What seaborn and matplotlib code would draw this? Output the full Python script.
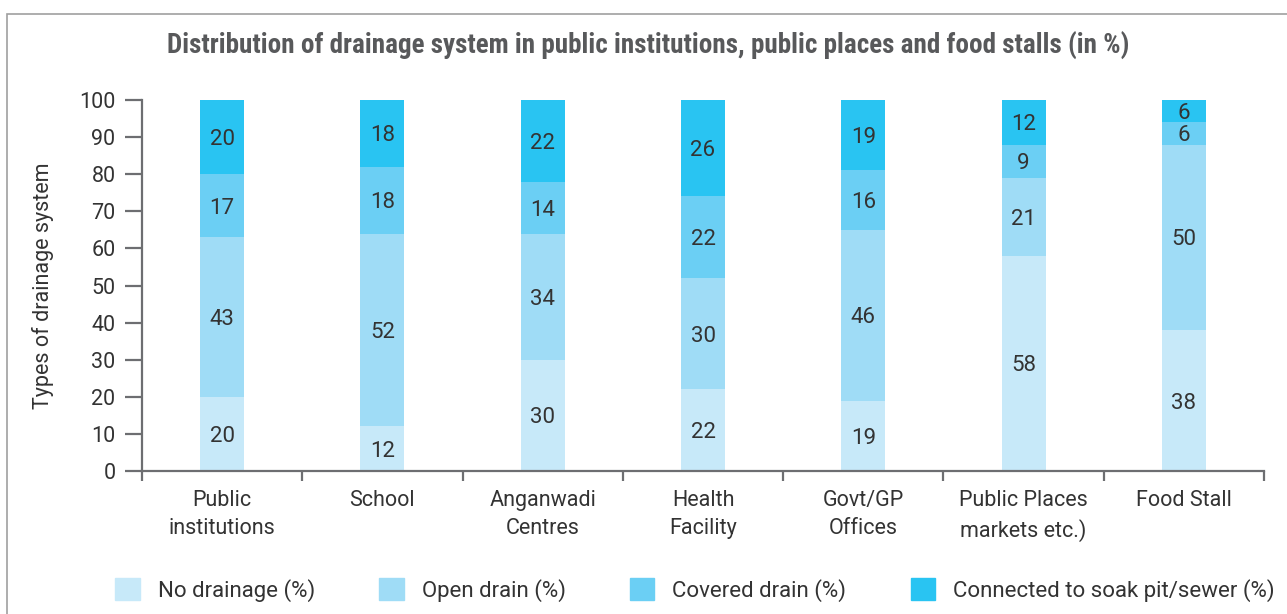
import matplotlib
matplotlib.use("Agg")
import matplotlib.pyplot as plt
import matplotlib.patches as mpatches
import numpy as np
import seaborn as sns

categories = ["Public\ninstitutions", "School", "Anganwadi\nCentres", "Health\nFacility",
              "Govt/GP\nOffices", "Public Places\nmarkets etc.)", "Food Stall"]
no_drainage = [20, 12, 30, 22, 19, 58, 38]
open_drain = [43, 52, 34, 30, 46, 21, 50]
covered_drain = [17, 18, 14, 22, 16, 9, 6]
connected = [20, 18, 22, 26, 19, 12, 6]

series_names = ["No drainage (%)", "Open drain (%)", "Covered drain (%)",
                "Connected to soak pit/sewer (%)"]
colors = ["#c7e9f9", "#9fdcf6", "#6bcff4", "#29c4f2"]

sns.set_style("white")
plt.rcParams["font.family"] = ["Roboto", "DejaVu Sans"]
text_col = "#333333"
axis_col = "#6d6e71"

fig = plt.figure(figsize=(12.87, 6.14), dpi=100)
ax = fig.add_axes([142 / 1287, 1 - 471 / 614, (1264 - 142) / 1287, (471 - 100) / 614])

series = [no_drainage, open_drain, covered_drain, connected]
cum = np.cumsum(np.array(series), axis=0)

# draw cumulative totals from the top down so each layer shows as a stacked segment
for i in range(len(series) - 1, -1, -1):
    sns.barplot(x=categories, y=cum[i], color=colors[i], width=0.275,
                saturation=1, ax=ax, linewidth=0)

for i, vals in enumerate(series):
    base = cum[i] - np.array(vals)
    for j, v in enumerate(vals):
        ax.text(j, base[j] + v / 2, str(v), ha="center", va="center_baseline",
                fontsize=16, color=text_col)

ax.set_xlim(-0.5, 6.5)
ax.set_ylim(0, 100)
ax.set_yticks(range(0, 101, 10))
ax.set_ylabel("Types of drainage system", fontsize=15.5, color=text_col, labelpad=18)
ax.set_xlabel("")
for s in ["top", "right"]:
    ax.spines[s].set_visible(False)
for s in ["left", "bottom"]:
    ax.spines[s].set_color(axis_col)
    ax.spines[s].set_linewidth(1.6)

ax.tick_params(axis="y", length=12, width=1.6, color=axis_col, labelsize=15.5,
               labelcolor=text_col, pad=7, left=True)
ax.tick_params(axis="x", which="major", length=0, labelsize=15.5, labelcolor=text_col, pad=14)
ax.set_xticks(np.arange(-0.5, 7, 1), minor=True)
ax.tick_params(axis="x", which="minor", length=7, width=1.6, color=axis_col, bottom=True)
for lbl in ax.get_xticklabels():
    lbl.set_linespacing(1.4)

fig.text(648 / 1287, 1 - 46 / 614,
         "Distribution of drainage system in public institutions, public places and food stalls (in %)",
         ha="center", va="center", fontsize=19.5, fontweight="bold", color="#58595b",
         family=["Liberation Sans Narrow", "Roboto Condensed", "Roboto", "DejaVu Sans"])

handles = [mpatches.Patch(color=c, label=n) for c, n in zip(colors, series_names)]
fig.legend(handles=handles, loc="center", bbox_to_anchor=(695 / 1287, 1 - 590 / 614),
           ncol=4, frameon=False, fontsize=16, handlelength=1.1, handleheight=1.1,
           columnspacing=2.9, handletextpad=0.8, labelcolor=text_col)

frame = mpatches.Rectangle((7 / 1287, -0.2), 1.2, 1 - 14 / 614 + 0.2, transform=fig.transFigure,
                           fill=False, edgecolor="#a0a0a0", linewidth=1.2)
fig.patches.append(frame)

fig.savefig("out.png", dpi=100)
